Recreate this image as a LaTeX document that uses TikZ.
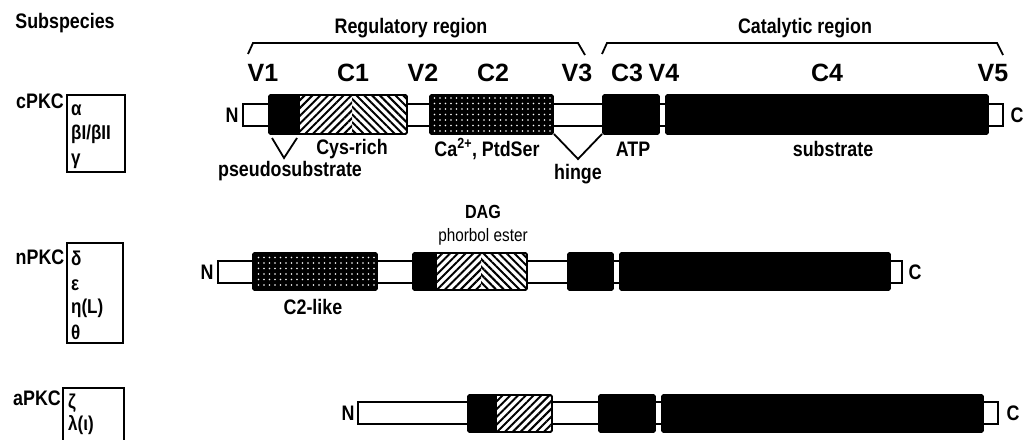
\documentclass[tikz,border=0pt]{standalone}
\usepackage{fontspec}
\setmainfont{Liberation Sans}
\newfontfamily\narrowfont{Liberation Sans}[FakeStretch=0.85]
\usetikzlibrary{patterns.meta}
\begin{document}
\begin{tikzpicture}[x=1pt,y=-1pt,
  lbl/.style={font=\narrowfont\bfseries\fontsize{21}{21}\selectfont, inner sep=0pt},
  dom/.style={font=\bfseries\fontsize{25}{25}\selectfont, inner sep=0pt},
  gk/.style={font=\narrowfont\bfseries\fontsize{20}{20}\selectfont, inner sep=0pt, anchor=west},
  bar/.style={draw=black, line width=1.8pt, fill=white},
  blk/.style={draw=black, line width=1.8pt, fill=black, rounded corners=1.5pt},
  outl/.style={draw=black, line width=1.8pt, rounded corners=1.5pt},
  hatchR/.style={pattern={Lines[angle=45,distance=5.5pt,line width=2pt]}},
  hatchL/.style={pattern={Lines[angle=-45,distance=5.5pt,line width=2pt]}},
  dotbox/.style={preaction={fill=black, rounded corners=1.5pt}, pattern={Dots[distance=5.5pt,radius=0.8pt]}, pattern color=white},
  thin/.style={line width=1.8pt},
  grp/.style={line width=1.5pt}
]
\useasboundingbox (0,0) rectangle (1024,439);

% ---------- header ----------
\node[lbl] (subsp) at (65,23) {Subspecies};
\node[lbl] (reg) at (411,28) {Regulatory region};
\node[lbl] (cat) at (805,28) {Catalytic region};
\draw[thin] (248,54) -- (253,43) -- (578,43) -- (585,55);
\draw[thin] (602,54) -- (607,43) -- (997,43) -- (1003,55);

\node[dom] (v1) at (263,73) {V1};
\node[dom] (c1) at (353,73) {C1};
\node[dom] (v2) at (423,73) {V2};
\node[dom] (c2) at (493,73) {C2};
\node[dom] (v3) at (577,73) {V3};
\node[dom] (c3) at (627,73) {C3};
\node[dom] (v4) at (664,73) {V4};
\node[dom] (c4) at (827,73) {C4};
\node[dom] (v5) at (993,73) {V5};

% ---------- cPKC ----------
\node[lbl] (cpkc) at (40,101) {cPKC};
\draw[grp] (67,95) rectangle (125,172);
\node[gk] (alpha) at (71,110) {α};
\node[gk] (beta) at (71,134) {βI/βII};
\node[gk] (gamma) at (71,161) {γ};

\node[lbl] (n1) at (232,115) {N};
\node[lbl] (e1) at (1017,115) {C};
\draw[bar] (243,104) rectangle (1003,126);
\fill[black, rounded corners=1.5pt] (269,95) rectangle (302,134);
\fill[white] (300,96) rectangle (406,133);
\fill[hatchR] (300,96) rectangle (352,133);
\fill[hatchL] (352,96) rectangle (406,133);
\draw[outl] (269,95) rectangle (407,134);
\path[dotbox] (430,95) rectangle (553,134);
\draw[outl] (430,95) rectangle (553,134);
\draw[blk] (603,95) rectangle (659,134);
\draw[blk] (666,95) rectangle (988,134);

\draw[thin] (272,138) -- (284,158) -- (297,138);
\draw[thin] (554,134) -- (578,159) -- (602,134);
\node[lbl] (pseudo) at (290,171) {pseudosubstrate};
\node[lbl] (cys) at (352,149) {Cys-rich};
\node[lbl] (ca) at (487,149) {Ca\textsuperscript{2+}, PtdSer};
\node[lbl] (hinge) at (578,174) {hinge};
\node[lbl] (atp) at (633,149) {ATP};
\node[lbl] (subs) at (833,149) {substrate};

% ---------- nPKC ----------
\node[lbl] (npkc) at (40,257) {nPKC};
\draw[grp] (67,243) rectangle (123,343);
\node[gk] (delta) at (71,258) {δ};
\node[gk] (eps) at (71,285) {ε};
\node[gk] (eta) at (71,308) {η(L)};
\node[gk] (theta) at (71,332) {θ};

\node[lbl] (n2) at (207,272) {N};
\node[lbl] (e2) at (915,272) {C};
\draw[bar] (218,261) rectangle (902,283);
\path[dotbox] (253,253) rectangle (377,290);
\draw[outl] (253,253) rectangle (377,290);
\fill[black, rounded corners=1.5pt] (413,253) rectangle (439,290);
\fill[white] (437,254) rectangle (526,289);
\fill[hatchR] (437,254) rectangle (481,289);
\fill[hatchL] (481,254) rectangle (526,289);
\draw[outl] (413,253) rectangle (527,290);
\draw[blk] (568,253) rectangle (613,290);
\draw[blk] (620,253) rectangle (890,290);

\node[font=\narrowfont\bfseries\fontsize{19}{19}\selectfont, inner sep=0pt] (dag) at (483,212) {DAG};
\node[font=\narrowfont\fontsize{18}{18}\selectfont, inner sep=0pt] (phorb) at (483,237) {phorbol ester};
\node[lbl] (c2like) at (313,307) {C2-like};

% ---------- aPKC ----------
\node[lbl] (apkc) at (37,398) {aPKC};
\draw[grp] (63,445) -- (63,388) -- (124,388) -- (124,445);
\node[gk] (zeta) at (68,403) {ζ};
\node[gk] (lambda) at (68,425) {λ(ι)};

\node[lbl] (n3) at (348,413) {N};
\node[lbl] (e3) at (1013,413) {C};
\draw[bar] (358,402) rectangle (998,424);
\fill[black, rounded corners=1.5pt] (468,395) rectangle (499,432);
\fill[white] (497,396) rectangle (551,431);
\fill[hatchR] (497,396) rectangle (551,431);
\draw[outl] (468,395) rectangle (552,432);
\draw[blk] (599,395) rectangle (655,432);
\draw[blk] (662,395) rectangle (983,432);
\end{tikzpicture}
\end{document}
